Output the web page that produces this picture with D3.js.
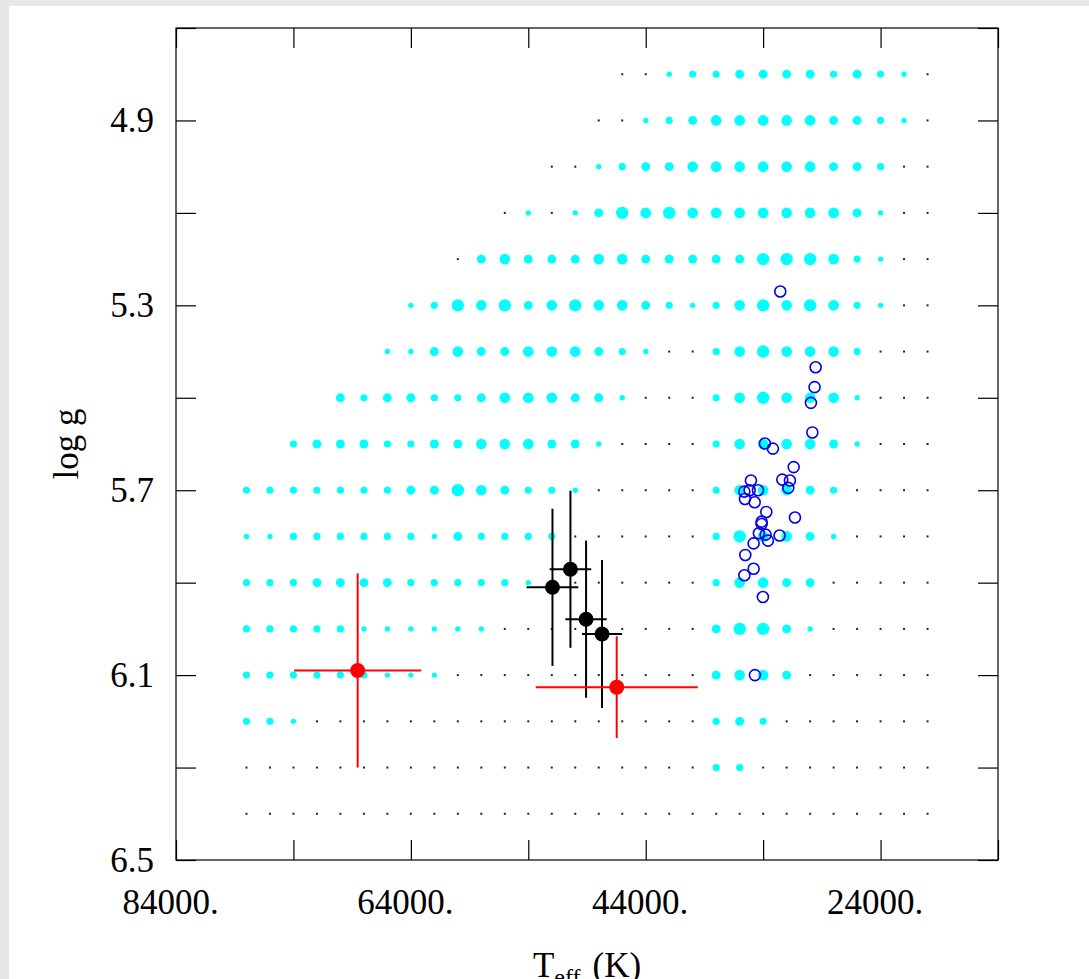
<!DOCTYPE html>
<html><head><meta charset="utf-8">
<script src="https://cdn.jsdelivr.net/npm/d3@7"></script>
<style>
html,body{margin:0;padding:0;background:#e7e7ea;}
svg{display:block;}
</style></head><body>
<svg id="c" width="1089" height="979"></svg>
<script>
// ---- data ----
const teffGrid = [78000,76000,74000,72000,70000,68000,66000,64000,62000,60000,58000,56000,54000,52000,50000,48000,46000,44000,42000,40000,38000,36000,34000,32000,30000,28000,26000,24000,22000,20000];
const loggGrid = [4.8,4.9,5.0,5.1,5.2,5.3,5.4,5.5,5.6,5.7,5.8,5.9,6.0,6.1,6.2,6.3,6.4];
const N = null;
// relative weight per grid cell (null = no model, 0 = empty model)
const gridWeight = [
 [N,N,N,N,N,N,N,N,N,N,N,N,N,N,N,N,0,0,1,2,2,3,3,3,3,2,3,2,1,0],
 [N,N,N,N,N,N,N,N,N,N,N,N,N,N,N,0,0,1,2,3,4,4,4,4,4,3,3,2,1,0],
 [N,N,N,N,N,N,N,N,N,N,N,N,N,0,0,1,2,3,3,4,4,4,4,4,4,3,3,2,0,0],
 [N,N,N,N,N,N,N,N,N,N,N,0,1,0,1,3,5,4,5,4,4,4,4,4,4,4,3,1,0,0],
 [N,N,N,N,N,N,N,N,N,0,3,4,3,3,3,4,4,3,3,3,3,3,5,5,5,4,2,1,0,0],
 [N,N,N,N,N,N,N,1,2,5,4,5,3,4,5,4,4,3,2,1,2,4,5,4,5,4,2,1,0,0],
 [N,N,N,N,N,N,1,1,3,4,3,3,4,4,4,3,2,1,0,0,2,4,5,4,4,4,2,0,0,0],
 [N,N,N,N,3,2,3,3,2,2,3,4,4,4,3,3,1,0,0,0,2,4,5,4,4,4,1,0,0,0],
 [N,N,2,3,3,3,2,2,3,3,4,4,4,3,3,1,0,0,0,0,2,4,4,4,4,3,1,0,0,0],
 [2,2,2,2,2,2,2,3,3,5,4,3,2,2,1,0,0,0,0,0,2,4,4,4,3,2,0,0,0,0],
 [1,1,2,2,2,2,2,2,1,3,2,2,2,2,0,0,0,0,0,0,2,5,4,4,3,1,0,0,0,0],
 [2,2,2,3,3,3,3,2,2,2,2,2,1,0,0,0,0,0,0,0,2,4,4,3,3,0,0,0,0,0],
 [2,2,2,2,2,1,1,1,1,1,1,0,0,0,0,0,0,0,0,0,3,5,5,3,1,0,0,0,0,0],
 [2,2,2,2,2,2,1,1,1,0,0,0,0,0,0,0,0,0,0,0,3,4,4,3,0,0,0,0,0,0],
 [2,2,1,0,0,0,0,0,0,0,0,0,0,0,0,0,0,0,0,0,2,3,2,0,0,0,0,0,0,0],
 [0,0,0,0,0,0,0,0,0,0,0,0,0,0,0,0,0,0,0,0,2,2,0,0,0,0,0,0,0,0],
 [0,0,0,0,0,0,0,0,0,0,0,0,0,0,0,0,0,0,0,0,0,0,0,0,0,0,0,0,0,0]
];
// comparison sample (open circles)
const sampleTeff = [32540,29530,29620,29930,29810,33850,33170,31400,35040,32370,31720,31860,35600,35150,34440,35550,34720,33730,31290,34130,34130,34360,33790,33590,32600,34810,35520,34810,35600,34020,34700];
const sampleLogg = [5.270,5.434,5.477,5.511,5.575,5.599,5.610,5.650,5.679,5.677,5.679,5.695,5.703,5.700,5.700,5.719,5.726,5.747,5.759,5.768,5.773,5.793,5.796,5.809,5.798,5.815,5.840,5.870,5.884,5.931,6.100];
// measured stars (black)
const starTeff = [51940,50410,49080,47720];
const starLogg = [5.910,5.871,5.979,6.011];
const starTeffErr = [2200,1770,1760,1700];
const starLoggErr = [0.170,0.170,0.170,0.160];
// measured stars (red)
const redTeff = [68530,46470];
const redLogg = [6.090,6.126];
const redTeffErr = [5420,6900];
const redLoggErr = [0.210,0.110];
// axis ticks
const xTickMarks = [84000,74000,64000,54000,44000,34000,24000,14000];
const xTickLabels = [84000,64000,44000,24000];
const yTickMarks = [4.7,4.9,5.1,5.3,5.5,5.7,5.9,6.1,6.3,6.5];
const yTickLabels = [4.9,5.3,5.7,6.1,6.5];

// ---- chart ----
const svg = d3.select("#c");
const L = 176, R = 998, T = 28, B = 860;
const FONT = "'Liberation Serif','DejaVu Serif',serif";
svg.append("rect").attr("x",9).attr("y",6).attr("width",1080).attr("height",973).attr("fill","#fff");

const x = d3.scaleLinear().domain([84000,14000]).range([L,R]);
const y = d3.scaleLinear().domain([4.7,6.5]).range([T,B]);
const r = d3.scaleLinear().domain([1,5]).range([2.7,6.2]);

const cells = [];
loggGrid.forEach((g,i)=>teffGrid.forEach((t,j)=>{const w=gridWeight[i][j]; if(w!==null) cells.push({t,g,w});}));

const gGrid = svg.append("g");
gGrid.selectAll("circle").data(cells.filter(d=>d.w>0)).join("circle")
  .attr("cx",d=>x(d.t)).attr("cy",d=>y(d.g)).attr("r",d=>r(d.w)).attr("fill","#00ffff");
gGrid.selectAll("rect").data(cells.filter(d=>d.w===0)).join("rect")
  .attr("x",d=>x(d.t)-1).attr("y",d=>y(d.g)-1).attr("width",2).attr("height",2).attr("fill","#222");

// open circles
svg.append("g").selectAll("circle").data(sampleTeff.map((t,i)=>({t,g:sampleLogg[i]}))).join("circle")
  .attr("cx",d=>x(d.t)).attr("cy",d=>y(d.g)).attr("r",5.5)
  .attr("fill","none").attr("stroke","#0000f0").attr("stroke-width",1.6);

function errPoints(tA,gA,teA,geA,color){
  const data = tA.map((t,i)=>({t,g:gA[i],te:teA[i],ge:geA[i]}));
  const g = svg.append("g");
  g.selectAll("line.h").data(data).join("line").attr("class","h")
    .attr("x1",d=>x(d.t+d.te)).attr("x2",d=>x(d.t-d.te)).attr("y1",d=>y(d.g)).attr("y2",d=>y(d.g))
    .attr("stroke",color).attr("stroke-width",2);
  g.selectAll("line.v").data(data).join("line").attr("class","v")
    .attr("x1",d=>x(d.t)).attr("x2",d=>x(d.t)).attr("y1",d=>y(d.g-d.ge)).attr("y2",d=>y(d.g+d.ge))
    .attr("stroke",color).attr("stroke-width",2);
  g.selectAll("circle").data(data).join("circle")
    .attr("cx",d=>x(d.t)).attr("cy",d=>y(d.g)).attr("r",7.5).attr("fill",color);
}
errPoints(starTeff,starLogg,starTeffErr,starLoggErr,"#000");
errPoints(redTeff,redLogg,redTeffErr,redLoggErr,"#ff0000");

// frame & ticks
const noLab = () => "";
function styleAxis(g){ g.selectAll("path.domain").remove(); g.selectAll("line").attr("stroke","#000").attr("stroke-width",1.2); }
svg.append("g").attr("transform",`translate(0,${B})`).call(d3.axisBottom(x).tickValues(xTickMarks).tickSize(-20).tickFormat(noLab)).call(styleAxis);
svg.append("g").attr("transform",`translate(0,${T})`).call(d3.axisTop(x).tickValues(xTickMarks).tickSize(-20).tickFormat(noLab)).call(styleAxis);
svg.append("g").attr("transform",`translate(${L},0)`).call(d3.axisLeft(y).tickValues(yTickMarks).tickSize(-20).tickFormat(noLab)).call(styleAxis);
svg.append("g").attr("transform",`translate(${R},0)`).call(d3.axisRight(y).tickValues(yTickMarks).tickSize(-20).tickFormat(noLab)).call(styleAxis);
svg.append("rect").attr("x",L).attr("y",T).attr("width",R-L).attr("height",B-T).attr("fill","none").attr("stroke","#000").attr("stroke-width",1.2);

// labels
const xl = svg.append("g").attr("transform",`translate(0,${B})`)
  .call(d3.axisBottom(x).tickValues(xTickLabels).tickSize(0).tickPadding(29).tickFormat(d=>d+"."));
xl.select("path.domain").remove();
xl.selectAll("text").attr("font-family",FONT).attr("font-size",35).attr("fill","#000").attr("dx",-6);
const yl = svg.append("g").attr("transform",`translate(${L},0)`)
  .call(d3.axisLeft(y).tickValues(yTickLabels).tickSize(0).tickPadding(22).tickFormat(d3.format(".1f")));
yl.select("path.domain").remove();
yl.selectAll("text").attr("font-family",FONT).attr("font-size",35).attr("fill","#000");

// axis titles
const xt = svg.append("text").attr("x",(L+R)/2).attr("y",977).attr("text-anchor","middle")
  .attr("font-family",FONT).attr("font-size",35).attr("fill","#000");
xt.append("tspan").text("T");
xt.append("tspan").attr("font-size",24).attr("dy",8).text("eff");
xt.append("tspan").attr("dy",-8).attr("dx",12).text("(K)");
svg.append("text").attr("transform",`translate(78,${(T+B)/2}) rotate(-90)`).attr("text-anchor","middle")
  .attr("font-family",FONT).attr("font-size",35).attr("fill","#000").text("log g");
</script>
</body></html>
